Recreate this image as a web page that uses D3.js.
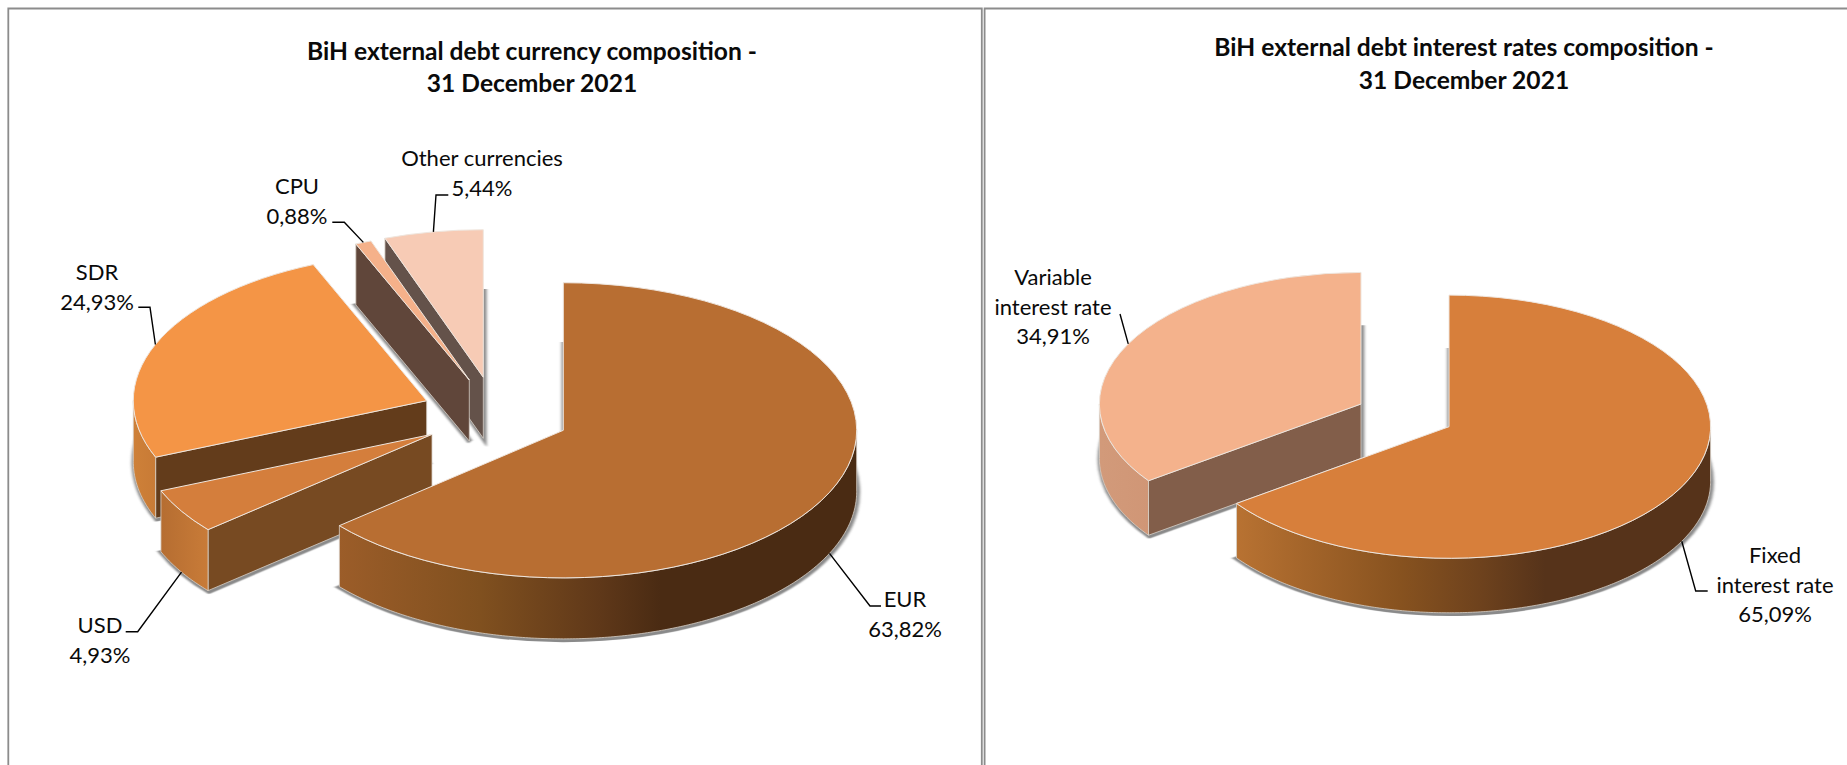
<!DOCTYPE html>
<html>
<head>
<meta charset="utf-8">
<script src="https://cdnjs.cloudflare.com/ajax/libs/d3/7.8.5/d3.min.js"></script>
<style>
    html, body { margin: 0; padding: 0; background: #fff; }
    svg { display: block; }
    text { font-family: Lato, "Open Sans", sans-serif; fill: #0a0a0a; }
</style>
</head>
<body>
<div id="chart"></div>
<script>
/* DATA */
const currencyNames = [["EUR"], ["USD"], ["SDR"], ["CPU"], ["Other currencies"]]
const currencyValues = [63.82, 4.93, 24.93, 0.88, 5.44]

const rateNames = [["Fixed", "interest rate"], ["Variable", "interest rate"]]
const rateValues = [65.09, 34.91]

const currencyTitle = ["BiH external debt currency composition -", "31 December 2021"]
const rateTitle = ["BiH external debt interest rates composition -", "31 December 2021"]

/* COLORS */
const currencyTop = ["#b86e32", "#d47e3c", "#f49546", "#f5b18a", "#f7cbb5"]
const currencyCut = ["#4a2b13", "#774a22", "#633c1b", "#60463a", "#64524a"]
const currencyRim = [
    [[337, "#9c5d29"], [480, "#80501f"], [600, "#5f3819"], [660, "#4a2b13"]],
    [[160, "#b56d31"], [207, "#c87b38"]],
    [[130, "#cf8139"], [156, "#c87b36"]],
    [[0, "#60463a"], [1, "#60463a"]],
    [[0, "#64524a"], [1, "#64524a"]]
]

const rateTop = ["#d77f3b", "#f4b28c"]
const rateCut = ["#56331a", "#825e4a"]
const rateRim = [
    [[1237, "#b87232"], [1400, "#87521f"], [1480, "#6e421d"], [1545, "#56331a"]],
    [[1100, "#d29a7a"], [1149, "#d09676"]]
]

/* LAYOUT */
const WIDTH = 1847, HEIGHT = 765

// where the tip of each exploded slice sits
const currencyTips = [[563.3, 430.3], [432, 434.3], [426.7, 400.7], [469.3, 380], [483.3, 377.3]]
const rateTips = [[1449, 426.7], [1361, 404]]

// leader elbows and label centres
const currencyLeaders = [
    [[870, 606], [881, 606]],
    [[137.7, 631.7], [125.7, 631.7]],
    [[150, 307.3], [138.3, 307.3]],
    [[344.3, 222.3], [332.3, 222.3]],
    [[436, 195], [448.3, 195]]
]
const currencyLabels = [[905, 599], [100, 625], [97, 272], [297, 186], [482, 158]]

const rateLeaders = [
    [[1695.7, 591], [1707.7, 591]],
    [[1120, 314]]
]
const rateLabels = [[1775, 555], [1053, 277]]

const FONT_SIZE = 22
const LINE_HEIGHT = 29.7

var svg = d3.select("#chart")
    .append("svg")
    .attr("width", WIDTH)
    .attr("height", HEIGHT)

var defs = svg.append("defs")

defs.append("filter")
    .attr("id", "blur")
    .attr("x", "-10%").attr("y", "-10%")
    .attr("width", "120%").attr("height", "120%")
    .append("feGaussianBlur")
    .attr("stdDeviation", 1.4)

/* FRAMES */
function drawFrame(x0, x1) {
    svg.append("path")
        .attr("d", `M${x0},${HEIGHT}V8.5H${x1}` + (x1 < WIDTH ? `V${HEIGHT}` : ""))
        .attr("fill", "none")
        .attr("stroke", "#8c8c8c")
        .attr("stroke-width", 1.8)
}

drawFrame(8.3, 981.8)
drawFrame(984.6, WIDTH)

/* 3D PIE */
var gradientCount = 0

function rimGradient(stops) {
    let id = "rim" + gradientCount++
    let xs = stops.map(s => s[0])
    let grad = defs.append("linearGradient")
        .attr("id", id)
        .attr("gradientUnits", "userSpaceOnUse")
        .attr("x1", d3.min(xs)).attr("x2", d3.max(xs))
        .attr("y1", 0).attr("y2", 0)
    stops.forEach(s => {
        grad.append("stop")
            .attr("offset", (s[0] - d3.min(xs)) / (d3.max(xs) - d3.min(xs)))
            .attr("stop-color", s[1])
    })
    return "url(#" + id + ")"
}

function createPie(config) {
    const radius = config.radius, depth = config.depth, squash = 0.503
    const pie = d3.pie().sort(null)
    const arcs = pie(config.values)
    const face = d3.arc().innerRadius(0).outerRadius(radius)

    // point on the ellipse for a pie angle, 0 is up and it goes clockwise
    const rimPoint = (tip, angle) => [tip[0] + radius * Math.sin(angle), tip[1] - radius * squash * Math.cos(angle)]

    const wall = d3.area()
        .x(d => d[0])
        .y0(d => d[1])
        .y1(d => d[1] + depth)

    // back slices first
    const order = d3.range(arcs.length).reverse()

    order.forEach(i => {
        let d = arcs[i]
        let tip = config.tips[i]
        let g = svg.append("g")

        // shadow comes from the bottom face only
        g.append("path")
            .attr("d", face(d))
            .attr("transform", `translate(${tip[0] + 0.8},${tip[1] + depth + 0.8}) scale(1,${squash})`)
            .attr("fill", "#8a8a8a")
            .attr("stroke", "#8a8a8a")
            .attr("stroke-width", 5)
            .attr("vector-effect", "non-scaling-stroke")
            .attr("filter", "url(#blur)")

        // cut face at the start angle, only when it looks at us
        if (Math.sin(d.startAngle) < -0.001) {
            g.append("path")
                .attr("d", wall([tip, rimPoint(tip, d.startAngle)]))
                .attr("fill", config.cut[i])
                .attr("stroke", "#d8d0c8")
                .attr("stroke-width", 0.8)
        }

        // outer wall, front half of the ellipse only
        let a0 = Math.max(d.startAngle, Math.PI / 2)
        let a1 = Math.min(d.endAngle, Math.PI * 1.5)
        if (a1 > a0) {
            let angles = d3.range(a0, a1, 0.01).concat([a1])
            g.append("path")
                .attr("d", wall(angles.map(a => rimPoint(tip, a))))
                .attr("fill", rimGradient(config.rim[i]))
                .attr("stroke", "#d8d0c8")
                .attr("stroke-width", 0.8)
        }

        // top face
        g.append("path")
            .attr("d", face(d))
            .attr("transform", `translate(${tip[0]},${tip[1]}) scale(1,${squash})`)
            .attr("fill", config.top[i])
            .attr("stroke", "#efe6de")
            .attr("stroke-width", 1)
            .attr("vector-effect", "non-scaling-stroke")
    })

    /* LABELS */
    arcs.forEach((d, i) => {
        let mid = (d.startAngle + d.endAngle) / 2
        let anchor = rimPoint(config.tips[i], mid)
        // front slices get the line on the bottom of the wall
        if (Math.cos(mid) < 0) {
            anchor[1] += depth
        }

        svg.append("path")
            .attr("d", d3.line()([anchor].concat(config.leaders[i])))
            .attr("fill", "none")
            .attr("stroke", "#000")
            .attr("stroke-width", 1.4)

        let lines = config.names[i].concat([config.values[i].toFixed(2).replace(".", ",") + "%"])
        let pos = config.labels[i]
        lines.forEach((line, k) => {
            svg.append("text")
                .attr("x", pos[0])
                .attr("y", pos[1] + k * LINE_HEIGHT)
                .attr("dy", "0.36em")
                .attr("text-anchor", "middle")
                .attr("font-size", FONT_SIZE)
                .text(line)
        })
    })
}

function drawTitle(lines, x, ys) {
    lines.forEach((line, k) => {
        svg.append("text")
            .attr("x", x)
            .attr("y", ys[k])
            .attr("dy", "0.36em")
            .attr("text-anchor", "middle")
            .attr("font-size", 24.6)
            .attr("font-weight", "bold")
            .text(line)
    })
}

drawTitle(currencyTitle, 532, [51, 83])
drawTitle(rateTitle, 1464, [47, 80])

createPie({
    values: currencyValues,
    names: currencyNames,
    top: currencyTop,
    cut: currencyCut,
    rim: currencyRim,
    tips: currencyTips,
    leaders: currencyLeaders,
    labels: currencyLabels,
    radius: 293.4,
    depth: 61
})

createPie({
    values: rateValues,
    names: rateNames,
    top: rateTop,
    cut: rateCut,
    rim: rateRim,
    tips: rateTips,
    leaders: rateLeaders,
    labels: rateLabels,
    radius: 261.6,
    depth: 54.5
})
</script>
</body>
</html>
